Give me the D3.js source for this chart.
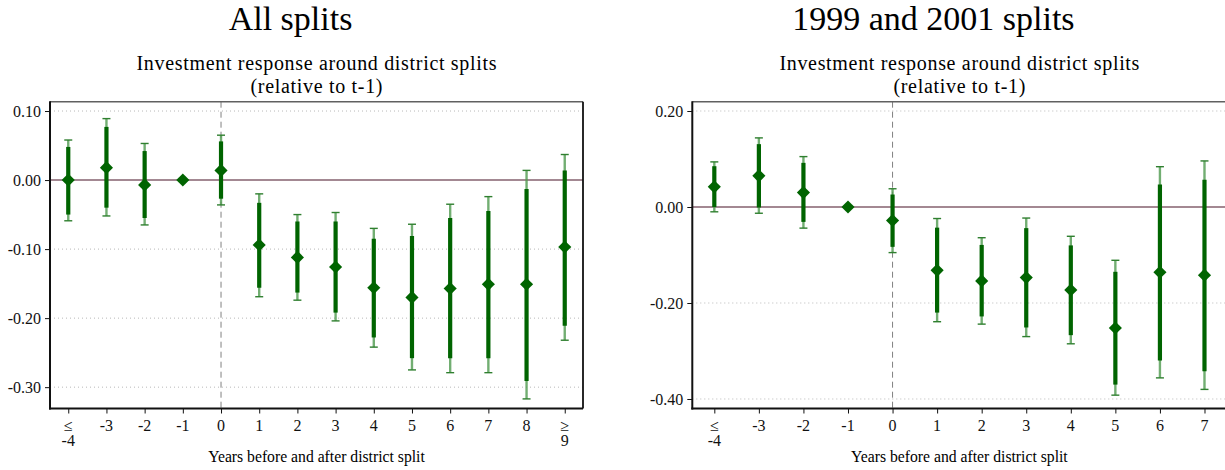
<!DOCTYPE html>
<html>
<head>
<meta charset="utf-8">
<script src="https://cdn.jsdelivr.net/npm/d3@7"></script>
<style>
  body { margin: 0; background: #fff; }
  svg { display: block; font-family: "Liberation Serif", "Times New Roman", serif; }
</style>
</head>
<body>
<script>
// ------------  DATA  ------------
// event-time categories (bottom axis)
const allLabels = ["≤\n-4","-3","-2","-1","0","1","2","3","4","5","6","7","8","≥\n9"];
const allCoef    = [0.000, 0.018,-0.007, 0.000, 0.014,-0.094,-0.112,-0.126,-0.156,-0.170,-0.157,-0.151,-0.151,-0.097];
const allInnerHi = [0.048, 0.077, 0.042, null,  0.056,-0.033,-0.060,-0.060,-0.085,-0.081,-0.055,-0.045,-0.013, 0.014];
const allInnerLo = [-0.050,-0.040,-0.055,null, -0.027,-0.156,-0.163,-0.192,-0.228,-0.258,-0.258,-0.258,-0.291,-0.211];
const allOuterHi = [0.058, 0.089, 0.053, null,  0.065,-0.020,-0.050,-0.047,-0.070,-0.064,-0.035,-0.024, 0.014, 0.037];
const allOuterLo = [-0.059,-0.052,-0.065,null, -0.036,-0.169,-0.174,-0.204,-0.242,-0.275,-0.279,-0.279,-0.317,-0.232];
const allYTicks  = [0.10, 0.00, -0.10, -0.20, -0.30];

const subLabels = ["≤\n-4","-3","-2","-1","0","1","2","3","4","5","6","7"];
const subCoef    = [0.042, 0.065, 0.030, 0.000,-0.028,-0.132,-0.154,-0.147,-0.173,-0.252,-0.136,-0.142];
const subInnerHi = [0.085, 0.131, 0.092, null,  0.026,-0.043,-0.079,-0.044,-0.080,-0.135, 0.047, 0.057];
const subInnerLo = [0.000,-0.001,-0.031, null, -0.083,-0.220,-0.228,-0.251,-0.267,-0.370,-0.320,-0.342];
const subOuterHi = [0.094, 0.144, 0.105, null,  0.038,-0.024,-0.064,-0.023,-0.061,-0.111, 0.084, 0.096];
const subOuterLo = [-0.010,-0.013,-0.044,null, -0.095,-0.239,-0.244,-0.270,-0.285,-0.392,-0.356,-0.380];
const subYTicks  = [0.20, 0.00, -0.20, -0.40];

const mainTitles = ["All splits", "1999 and 2001 splits"];
const subTitle = ["Investment response around district splits", "(relative to t-1)"];
const xTitle = "Years before and after district split";

// ------------  PARAMETERS  ------------
const W = 1225, H = 470;
const green = "#006400";

const svg = d3.select("body").append("svg").attr("width", W).attr("height", H);

function drawPanel(p) {
  const g = svg.append("g");
  const x = d3.scalePoint().domain(p.labels).range([p.left, p.right]).padding(p.pad);
  const y = d3.scaleLinear().domain(p.yDomain).range([p.bottom, p.top]);
  const cx = (p.left + p.right) / 2;

  // titles
  g.append("text").attr("x", cx - 26).attr("y", 30).attr("text-anchor", "middle")
    .attr("font-size", 34).text(p.title);
  g.append("text").attr("x", cx).attr("y", 70).attr("text-anchor", "middle")
    .attr("font-size", 20).attr("textLength", 360).text(subTitle[0]);
  g.append("text").attr("x", cx).attr("y", 93).attr("text-anchor", "middle")
    .attr("font-size", 20).attr("textLength", 132).text(subTitle[1]);

  // grid
  g.selectAll(".grid").data(p.yTicks.filter(d => d !== 0)).enter().append("line")
    .attr("x1", p.left).attr("x2", p.right)
    .attr("y1", d => y(d)).attr("y2", d => y(d))
    .attr("stroke", "#b8b8b8").attr("stroke-width", 1).attr("stroke-dasharray", "1,3");

  // zero line
  g.append("line").attr("x1", p.left).attr("x2", p.right)
    .attr("y1", y(0)).attr("y2", y(0))
    .attr("stroke", "#85606e").attr("stroke-width", 1.6);

  // event line at 0
  g.append("line").attr("x1", x("0")).attr("x2", x("0"))
    .attr("y1", p.top).attr("y2", p.bottom)
    .attr("stroke", "#808080").attr("stroke-width", 1).attr("stroke-dasharray", "6,4");

  // frame top / right
  g.append("line").attr("x1", p.left).attr("x2", p.right).attr("y1", p.top).attr("y2", p.top)
    .attr("stroke", "#606060").attr("stroke-width", 1.5);
  g.append("line").attr("x1", p.right).attr("x2", p.right).attr("y1", p.top).attr("y2", p.bottom)
    .attr("stroke", "#111").attr("stroke-width", 1.8);

  const rows = p.labels.map((l, i) => ({
    l, c: p.coef[i], ih: p.innerHi[i], il: p.innerLo[i], oh: p.outerHi[i], ol: p.outerLo[i]
  }));
  const ci = rows.filter(d => d.ih !== null);

  // outer CI (thin) with caps
  g.selectAll(".outer").data(ci).enter().append("line")
    .attr("x1", d => x(d.l)).attr("x2", d => x(d.l))
    .attr("y1", d => y(d.oh)).attr("y2", d => y(d.ol))
    .attr("stroke", "#4f9a4f").attr("stroke-opacity", 0.8).attr("stroke-width", 2.4);
  ["oh", "ol"].forEach(k => {
    g.selectAll(".cap" + k).data(ci).enter().append("line")
      .attr("x1", d => x(d.l) - 4).attr("x2", d => x(d.l) + 4)
      .attr("y1", d => y(d[k])).attr("y2", d => y(d[k]))
      .attr("stroke", "#2f7f2f").attr("stroke-width", 1.4);
  });

  // inner CI (thick)
  g.selectAll(".inner").data(ci).enter().append("line")
    .attr("x1", d => x(d.l)).attr("x2", d => x(d.l))
    .attr("y1", d => y(d.ih)).attr("y2", d => y(d.il))
    .attr("stroke", green).attr("stroke-width", 4.2);

  // diamonds
  g.selectAll(".pt").data(rows).enter().append("path")
    .attr("d", d3.symbol().type(d3.symbolDiamond2).size(110))
    .attr("transform", d => `translate(${x(d.l)},${y(d.c)})`)
    .attr("fill", green);

  // y axis
  const yAxis = d3.axisLeft(y).tickValues(p.yTicks).tickSize(5).tickPadding(4)
    .tickFormat(d => d.toFixed(2));
  const ya = g.append("g").attr("transform", `translate(${p.left},0)`).call(yAxis);
  ya.select(".domain").remove();
  ya.selectAll("text").attr("font-size", 16).attr("font-family", "Liberation Serif").attr("fill", "#111");
  ya.selectAll(".tick line").attr("stroke", "#111");
  g.append("line").attr("x1", p.left).attr("x2", p.left).attr("y1", p.top - 0.5).attr("y2", p.bottom + 1)
    .attr("stroke", "#111").attr("stroke-width", 2);

  // x axis
  const xAxis = d3.axisBottom(x).tickSize(5).tickFormat("");
  const xa = g.append("g").attr("transform", `translate(0,${p.bottom})`).call(xAxis);
  xa.select(".domain").remove();
  xa.selectAll(".tick line").attr("stroke", "#111");
  g.append("line").attr("x1", p.left - 1).attr("x2", p.right).attr("y1", p.bottom).attr("y2", p.bottom)
    .attr("stroke", "#111").attr("stroke-width", 2);

  const tl = g.selectAll(".xl").data(p.labels).enter().append("text")
    .attr("text-anchor", "middle").attr("font-size", 16).attr("fill", "#111");
  tl.each(function (d) {
    const parts = d.split("\n");
    parts.forEach((t, j) => {
      d3.select(this).append("tspan").attr("x", x(d)).attr("y", p.bottom + 22 + j * 15).text(t);
    });
  });

  g.append("text").attr("x", cx).attr("y", 462).attr("text-anchor", "middle")
    .attr("font-size", 15.7).text(xTitle);
}

drawPanel({
  title: mainTitles[0], labels: allLabels, coef: allCoef,
  innerHi: allInnerHi, innerLo: allInnerLo, outerHi: allOuterHi, outerLo: allOuterLo,
  yTicks: allYTicks, yDomain: [-0.3309, 0.1135],
  left: 50, right: 583, top: 101.7, bottom: 408.5, pad: 0.478
});

drawPanel({
  title: mainTitles[1], labels: subLabels, coef: subCoef,
  innerHi: subInnerHi, innerLo: subInnerLo, outerHi: subOuterHi, outerLo: subOuterLo,
  yTicks: subYTicks, yDomain: [-0.4198, 0.2194],
  left: 692.3, right: 1226.5, top: 101.7, bottom: 408.5, pad: 0.494
});
</script>
</body>
</html>
